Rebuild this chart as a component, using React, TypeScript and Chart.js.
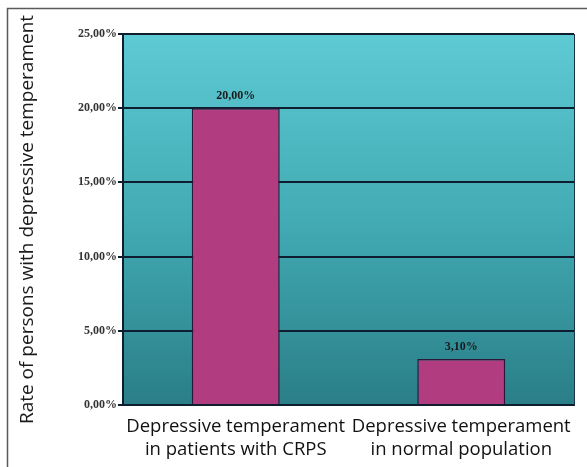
import React, { useEffect, useRef } from "react";
import { Chart, registerables } from "chart.js";

Chart.register(...registerables);

const categories: string[][] = [
  ["Depressive temperament", "in patients with CRPS"],
  ["Depressive temperament", "in normal population"],
];
const values: number[] = [20, 3.1];
const yTickValues: number[] = [0, 5, 10, 15, 20, 25];
const yTitle = "Rate of persons with depressive temperament";

const fmt = (v: number) => v.toFixed(2).replace(".", ",") + "%";

const framePlugin = {
  id: "framePlugin",
  beforeDraw(chart: any) {
    const { ctx, chartArea, width, height } = chart;
    ctx.save();
    ctx.fillStyle = "#ffffff";
    ctx.fillRect(0, 0, width, height);
    ctx.strokeStyle = "#5a5a5a";
    ctx.lineWidth = 1.5;
    ctx.beginPath();
    ctx.moveTo(7.5, height);
    ctx.lineTo(7.5, 8.5);
    ctx.lineTo(width, 8.5);
    ctx.stroke();
    const g = ctx.createLinearGradient(0, chartArea.top, 0, chartArea.bottom);
    g.addColorStop(0, "#5ecad3");
    g.addColorStop(0.5, "#42abb4");
    g.addColorStop(1, "#2a7e87");
    ctx.fillStyle = g;
    ctx.fillRect(chartArea.left, chartArea.top, chartArea.right - chartArea.left, chartArea.bottom - chartArea.top);
    ctx.restore();
  },
  afterDatasetsDraw(chart: any) {
    const { ctx, chartArea } = chart;
    ctx.save();
    ctx.strokeStyle = "#1c3446";
    ctx.lineWidth = 1;
    ctx.beginPath();
    ctx.moveTo(chartArea.right + 0.5, chartArea.top);
    ctx.lineTo(chartArea.right + 0.5, chartArea.bottom);
    ctx.stroke();
    const meta = chart.getDatasetMeta(0);
    ctx.fillStyle = "#1a1a1a";
    ctx.font = "bold 12px 'Liberation Serif'";
    ctx.textAlign = "center";
    ctx.textBaseline = "bottom";
    meta.data.forEach((bar: any, i: number) => {
      ctx.fillText(fmt(values[i]), bar.x, bar.y - 6);
    });
    ctx.restore();
  },
};

export default function App() {
  const ref = useRef<HTMLCanvasElement>(null);
  useEffect(() => {
    if (!ref.current) return;
    const chart = new Chart(ref.current, {
      type: "bar",
      data: {
        labels: categories,
        datasets: [
          {
            data: values,
            backgroundColor: "#b13d80",
            borderColor: "#2a1838",
            borderWidth: 1.5,
            barPercentage: 0.39,
            categoryPercentage: 1,
          },
        ],
      },
      options: {
        animation: false,
        responsive: false,
        maintainAspectRatio: false,
        layout: { padding: { left: 0, top: 34, right: 13, bottom: 0 } },
        plugins: {
          legend: { display: false },
          tooltip: { enabled: false },
        },
        scales: {
          x: {
            grid: { display: true, drawOnChartArea: false, drawTicks: false },
            border: { display: true, color: "#0f1d30", width: 2 },
            ticks: {
              color: "#111111",
              padding: 11,
              font: { family: "'Open Sans'", size: 18.5, weight: "500", lineHeight: 1.2 },
              maxRotation: 0,
              autoSkip: false,
            },
            afterFit(scale: any) {
              scale.height = 62;
            },
          },
          y: {
            min: 0,
            max: 25,
            afterBuildTicks(scale: any) {
              scale.ticks = yTickValues.map((v) => ({ value: v }));
            },
            grid: { color: "#0f1d30", lineWidth: 2, tickLength: 5, drawTicks: true },
            border: { display: true, color: "#0f1d30", width: 2 },
            ticks: {
              color: "#333333",
              padding: 1,
              font: { family: "'Liberation Serif'", size: 12, weight: "bold" },
              callback: (v: any) => fmt(Number(v)),
            },
            title: {
              display: true,
              text: yTitle,
              color: "#1a1a1a",
              font: { family: "'Open Sans'", size: 19, weight: "500" },
              padding: { top: 16, bottom: 0 },
            },
            afterFit(scale: any) {
              scale.width = 123;
            },
          },
        },
      },
      plugins: [framePlugin],
    });
    return () => chart.destroy();
  }, []);
  return (
    <div style={{ position: "absolute", left: 0, top: 0, width: 587, height: 467 }}>
      <canvas ref={ref} width={587} height={467} style={{ display: "block" }} />
    </div>
  );
}
